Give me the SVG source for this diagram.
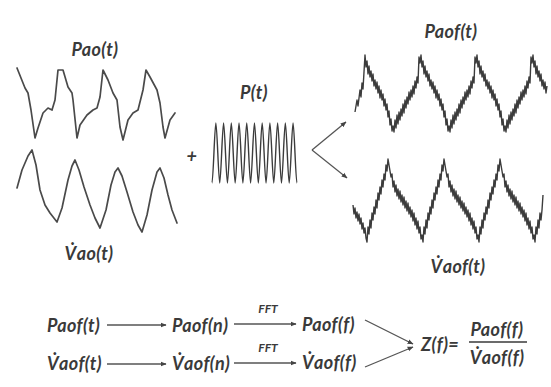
<svg xmlns="http://www.w3.org/2000/svg" width="551" height="387" viewBox="0 0 551 387">
<defs>
<style>
.t{font-family:Lato,"Open Sans","Liberation Sans",sans-serif;font-style:italic;font-weight:bold;fill:#3a3a3a;font-size:18px;letter-spacing:0.4px}
.s{font-size:12px;letter-spacing:0}
.w{fill:none;stroke:#4a4a4a;stroke-width:1.7;stroke-linejoin:round;stroke-linecap:round}
.n{fill:none;stroke:#3c3c3c;stroke-width:1.4;stroke-linejoin:round}
.c{fill:none;stroke:#555;stroke-width:1.3}
</style>
<marker id="ah" viewBox="0 0 10 10" refX="9" refY="5" markerWidth="6" markerHeight="6" orient="auto" markerUnits="userSpaceOnUse">
<path d="M0,1 L10,5 L0,9 z" fill="#444"/>
</marker>
</defs>
<rect width="551" height="387" fill="#fff"/>

<g id="pao">
<text class="t" x="95" y="56" text-anchor="middle">Pao(t)</text>
<path class="w" d="M17,68 L25,88 L28,93 L31,110 L35,138 L38,128 L43,113 L48,108 L52,110 L55,100 L58,70 L63,70 L68,87 L72,93 L73,100 L77,138 L80,125 L87,115 L93,110 L97,108 L100,97 L103,70 L108,80 L113,93 L117,100 L120,127 L123,140 L128,120 L133,113 L138,110 L143,90 L146,70 L150,77 L157,90 L160,103 L163,127 L165,138 L170,120 L175,113"/>
</g>

<g id="vao">
<path class="w" d="M17,188 L22,170 L28,156 L32,150 L36,165 L40,190 L45,205 L50,213 L57,222 L62,208 L68,180 L72,166 L75,160 L79,170 L84,187 L90,205 L95,218 L100,228 L106,210 L111,185 L115,172 L118,168 L122,176 L127,192 L133,212 L138,225 L142,232 L147,215 L152,190 L157,172 L160,168 L164,178 L168,195 L172,210 L177,223"/>
<text class="t" x="89" y="260" text-anchor="middle">V̇ao(t)</text>
</g>

<g id="plus">
<text class="t" x="192" y="163" text-anchor="middle">+</text>
</g>

<g id="pt">
<text class="t" x="254" y="99" text-anchor="middle">P(t)</text>
<path class="n" d="M212,183 c1.2,0 2.66,-60 3.86,-60 c1.2,0 2.66,60 3.86,60 c1.2,0 2.66,-60 3.86,-60 c1.2,0 2.66,60 3.86,60 c1.2,0 2.66,-60 3.86,-60 c1.2,0 2.66,60 3.86,60 c1.2,0 2.66,-60 3.86,-60 c1.2,0 2.66,60 3.86,60 c1.2,0 2.66,-60 3.86,-60 c1.2,0 2.66,60 3.86,60 c1.2,0 2.66,-60 3.86,-60 c1.2,0 2.66,60 3.86,60 c1.2,0 2.66,-60 3.86,-60 c1.2,0 2.66,60 3.86,60 c1.2,0 2.66,-60 3.86,-60 c1.2,0 2.66,60 3.86,60 c1.2,0 2.66,-60 3.86,-60 c1.2,0 2.66,60 3.86,60 c1.2,0 2.66,-60 3.86,-60 c1.2,0 2.66,60 3.86,60 c1.2,0 2.66,-60 3.86,-60 c1.2,0 2.66,60 3.86,60"/>
</g>

<g id="paof">
<text class="t" x="451" y="38" text-anchor="middle">Paof(t)</text>
<path class="n" d="M355,112 l2,-12 l1,6 l2,-16 l1,7 l1,-14 l1,6 l2,-34
l1,12 l1,-6 l1,13 l1,-8 l1,11 l1,-6 l1,10 l1,-7 l1,12 l1,-6 l1,9 l1,-7 l1,11 l1,-7 l1,12 l1,-8 l1,10 l1,-6 l1,12 l1,-7 l1,11 l1,-6 l1,13 l1,-6 l1,14 l1,-6 l1,12 l1,-5 l1,6 l1,-12 l1,8 l1,-13 l1,9 l1,-12 l1,8 l1,-11 l1,7 l1,-12 l1,9 l1,-13 l1,8 l1,-11 l1,7 l1,-12 l1,8 l1,-10 l1,7 l1,-11 l1,8 l1,-13 l1,7 l1,-11 l1,6 l1,-26 l1,6 l1,-8
l1,12 l1,-6 l1,13 l1,-8 l1,11 l1,-6 l1,10 l1,-7 l1,12 l1,-6 l1,9 l1,-7 l1,11 l1,-7 l1,12 l1,-8 l1,10 l1,-6 l1,12 l1,-7 l1,11 l1,-6 l1,13 l1,-6 l1,14 l1,-6 l1,12 l1,-5 l1,6 l1,-12 l1,8 l1,-13 l1,9 l1,-12 l1,8 l1,-11 l1,7 l1,-12 l1,9 l1,-13 l1,8 l1,-11 l1,7 l1,-12 l1,8 l1,-10 l1,7 l1,-11 l1,8 l1,-13 l1,7 l1,-11 l1,6 l1,-26 l1,6 l1,-8
l1,12 l1,-6 l1,13 l1,-8 l1,11 l1,-6 l1,10 l1,-7 l1,12 l1,-6 l1,9 l1,-7 l1,11 l1,-7 l1,12 l1,-8 l1,10 l1,-6 l1,12 l1,-7 l1,11 l1,-6 l1,13 l1,-6 l1,14 l1,-6 l1,12 l1,-5 l1,6 l1,-12 l1,8 l1,-13 l1,9 l1,-12 l1,8 l1,-11 l1,7 l1,-12 l1,9 l1,-13 l1,8 l1,-11 l1,7 l1,-12 l1,8 l1,-10 l1,7 l1,-11 l1,8 l1,-13 l1,7 l1,-11 l1,6 l1,-26 l1,6 l1,-8
l1,12 l1,-6 l1,13 l1,-8 l1,11 l1,-6 l1,10 l1,-7 l1,12 l1,-6 l1,9 l1,-7 l1,11 l1,-7"/>
</g>

<g id="vaof">
<path class="n" d="M353,205 l1,9 l1,-6 l1,10 l1,-6 l1,9 l1,-7 l1,10 l1,-6 l1,11 l1,-6 l1,10 l1,-5 l1,10 l1,4
l1,-15 l1,7 l1,-14 l1,8 l1,-15 l1,7 l1,-13 l1,7 l1,-14 l1,8 l1,-15 l1,7 l1,-13 l1,7 l1,-14 l1,7 l1,-13 l1,6 l1,-15 l1,6 l1,-12 l1,6
l2,12 l1,-3 l1,13 l1,-6 l1,11 l1,-7 l1,11 l1,-7 l1,10 l1,-8 l1,11 l1,-7 l1,10 l1,-8 l1,11 l1,-7 l1,10 l1,-8 l1,11 l1,-7 l1,10 l1,-7 l1,11 l1,-8 l1,12 l1,-7 l1,11 l1,-8 l1,12 l1,-6 l1,12 l1,-4 l1,7
l1,-15 l1,7 l1,-14 l1,8 l1,-15 l1,7 l1,-13 l1,7 l1,-14 l1,8 l1,-15 l1,7 l1,-13 l1,7 l1,-14 l1,7 l1,-13 l1,6 l1,-15 l1,6 l1,-12 l1,6
l2,12 l1,-3 l1,13 l1,-6 l1,11 l1,-7 l1,11 l1,-7 l1,10 l1,-8 l1,11 l1,-7 l1,10 l1,-8 l1,11 l1,-7 l1,10 l1,-8 l1,11 l1,-7 l1,10 l1,-7 l1,11 l1,-8 l1,12 l1,-7 l1,11 l1,-8 l1,12 l1,-6 l1,12 l1,-4 l1,7
l1,-15 l1,7 l1,-14 l1,8 l1,-15 l1,7 l1,-13 l1,7 l1,-14 l1,8 l1,-15 l1,7 l1,-13 l1,7 l1,-14 l1,7 l1,-13 l1,6 l1,-15 l1,6 l1,-12 l1,6
l2,12 l1,-3 l1,13 l1,-6 l1,11 l1,-7 l1,11 l1,-7 l1,10 l1,-8 l1,11 l1,-7 l1,10 l1,-8 l1,11 l1,-7 l1,10 l1,-8 l1,11 l1,-7 l1,10 l1,-7 l1,11 l1,-8 l1,12 l1,-7 l1,11 l1,-8 l1,12 l1,-6 l1,12 l1,-4 l1,7
l1,-15 l1,7 l1,-14 l1,8 l1,-15 l1,7 l1,-10 l1,-15"/>
<text class="t" x="458" y="273" text-anchor="middle">V̇aof(t)</text>
</g>

<g id="row1">
<text class="t" x="47" y="332">Paof(t)</text>
<text class="t" x="172" y="332">Paof(n)</text>
<text class="t s" x="268" y="313" text-anchor="middle">FFT</text>
<text class="t" x="302" y="331">Paof(f)</text>
</g>
<g id="row2">
<text class="t" x="47" y="370">V̇aof(t)</text>
<text class="t" x="172" y="370">V̇aof(n)</text>
<text class="t s" x="268" y="352" text-anchor="middle">FFT</text>
<text class="t" x="302" y="369">V̇aof(f)</text>
</g>
<g id="z">
<text class="t" x="421" y="351">Z(f)=</text>
<text class="t" x="497" y="336" text-anchor="middle">Paof(f)</text>
<line x1="469" y1="342" x2="527" y2="342" stroke="#3a3a3a" stroke-width="1.3"/>
<text class="t" x="497" y="364" text-anchor="middle">V̇aof(f)</text>
</g>

<g id="connectors">
<line class="c" x1="312" y1="150" x2="346" y2="122" marker-end="url(#ah)"/>
<line class="c" x1="312" y1="150" x2="347" y2="178" marker-end="url(#ah)"/>
<line class="c" x1="107" y1="325" x2="166" y2="325" marker-end="url(#ah)"/>
<line class="c" x1="234" y1="324" x2="296" y2="324" marker-end="url(#ah)"/>
<line class="c" x1="107" y1="364" x2="166" y2="364" marker-end="url(#ah)"/>
<line class="c" x1="234" y1="363" x2="296" y2="363" marker-end="url(#ah)"/>
<line class="c" x1="365" y1="320" x2="413" y2="344" marker-end="url(#ah)"/>
<line class="c" x1="365" y1="367" x2="413" y2="347" marker-end="url(#ah)"/>
</g>
</svg>
